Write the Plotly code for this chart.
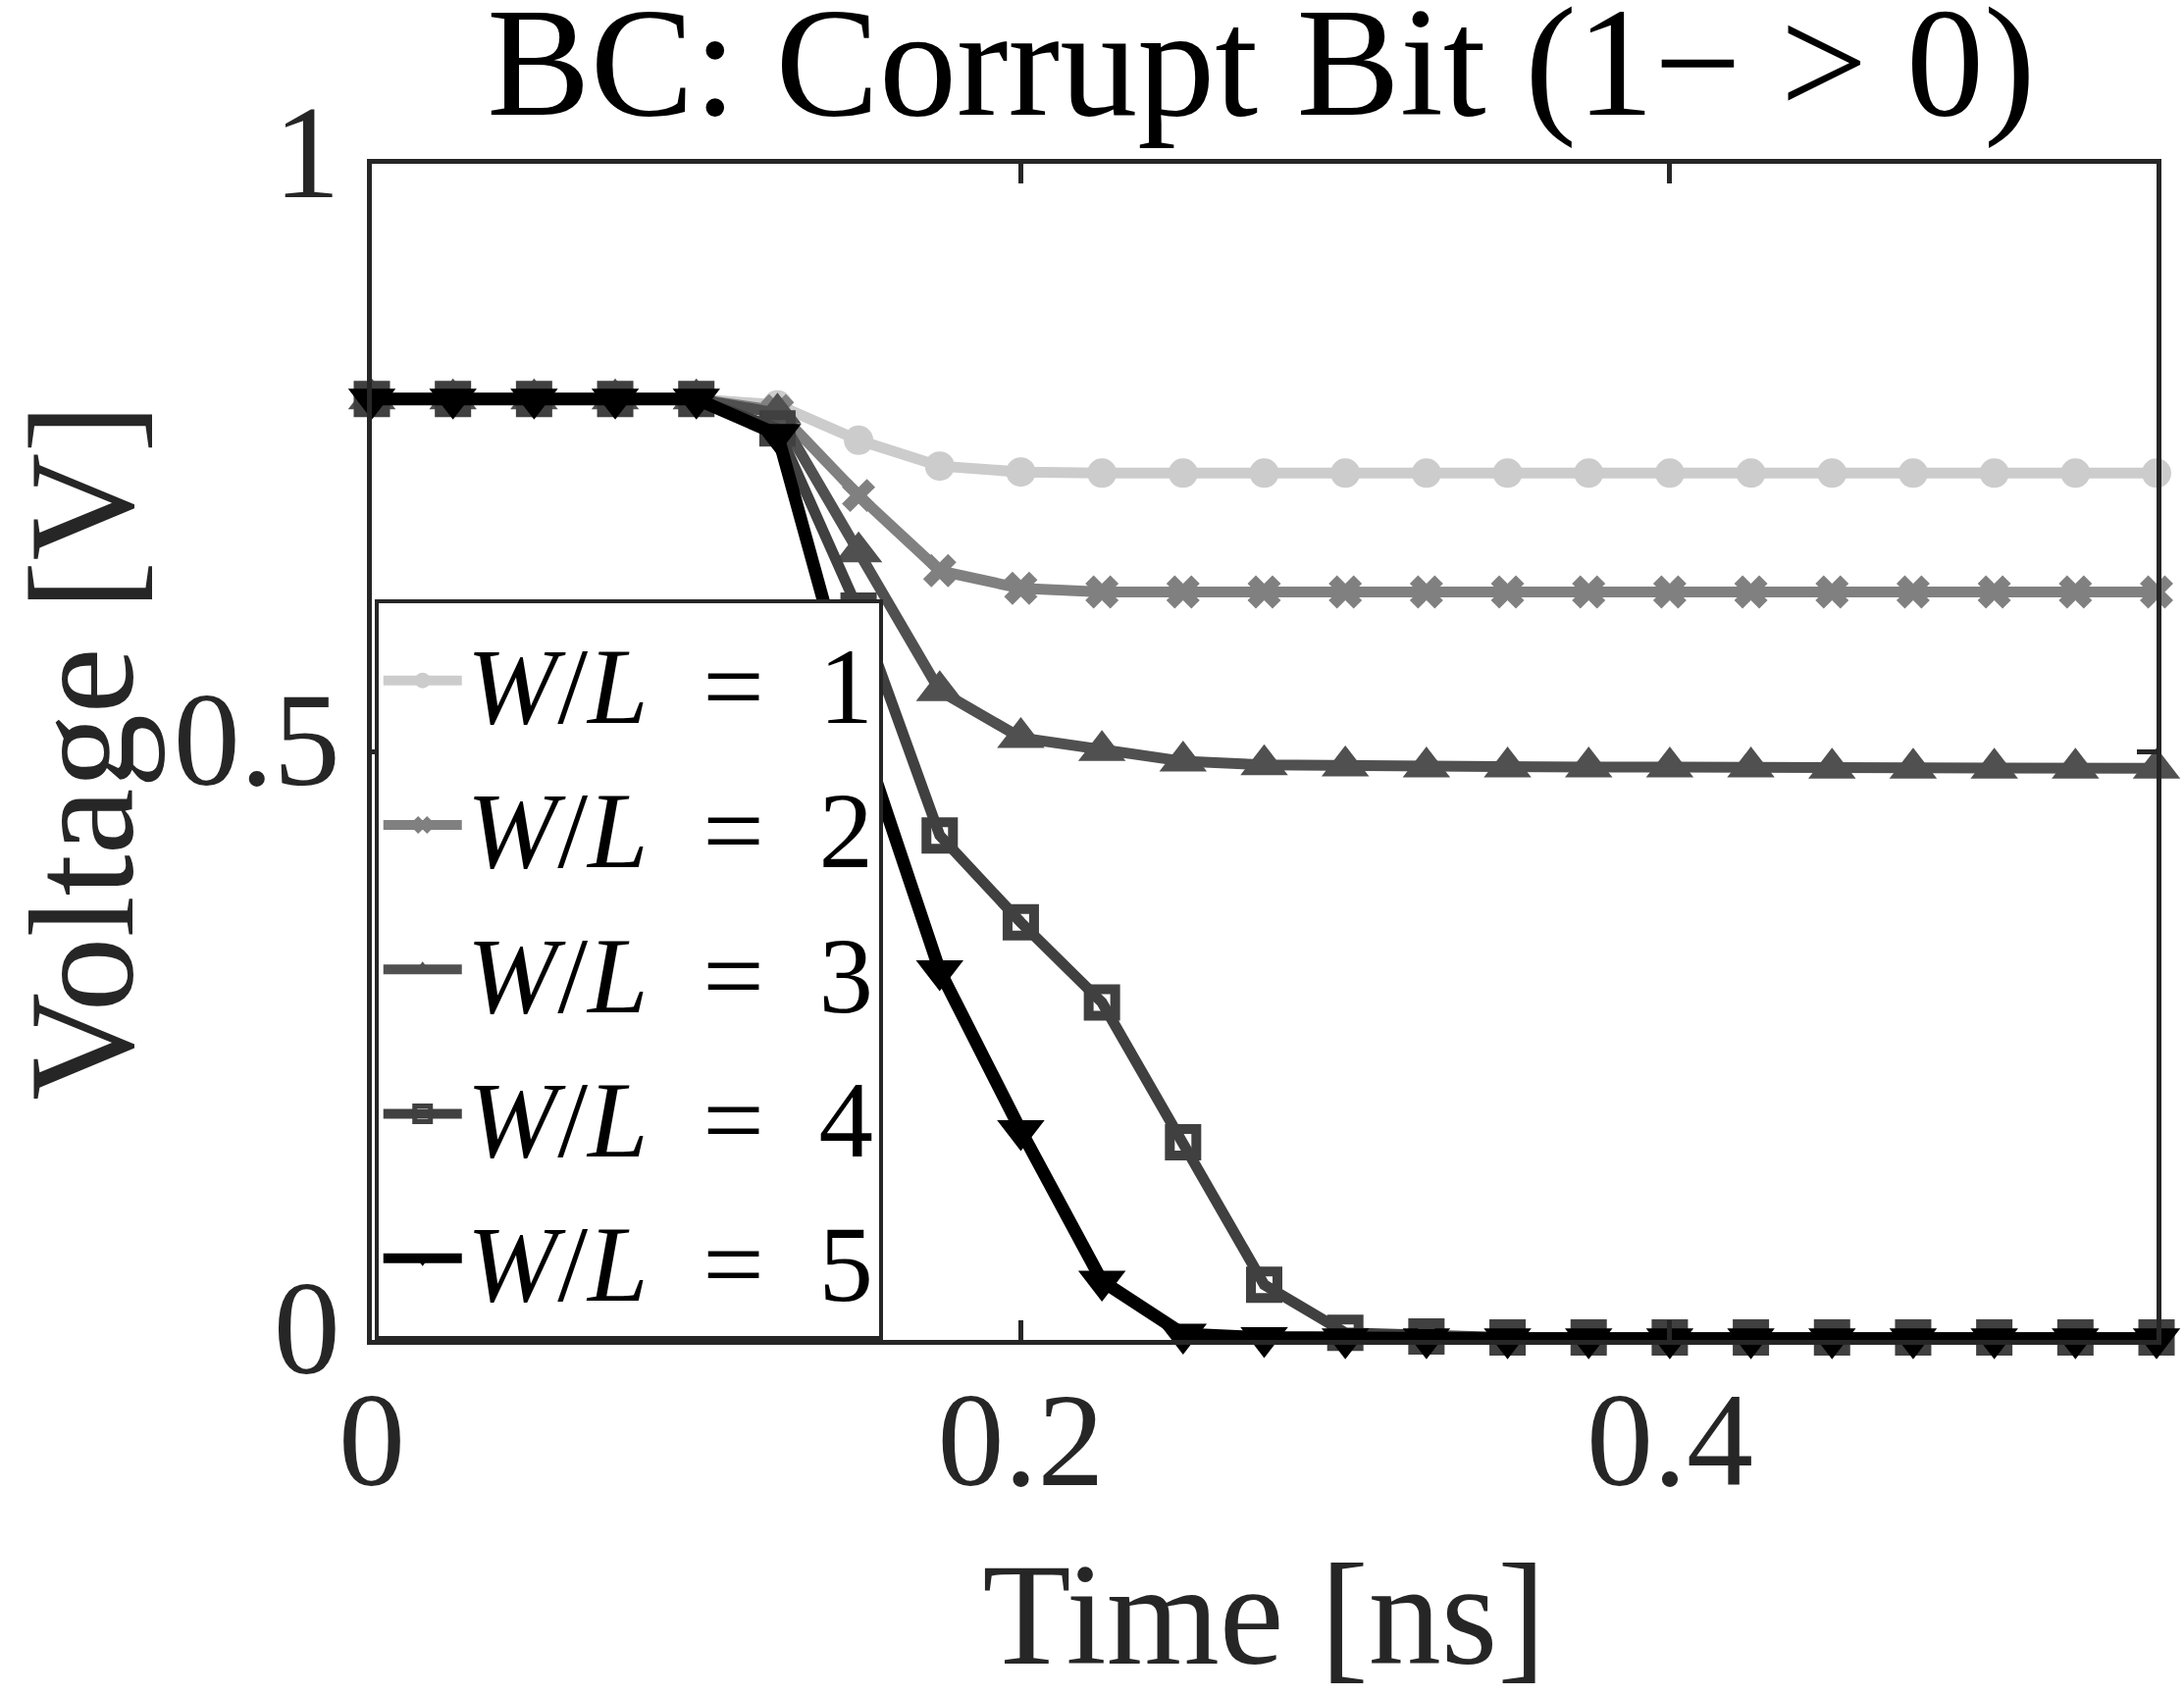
import plotly.graph_objects as go

time_ns = [0, 0.025, 0.05, 0.075, 0.1, 0.125, 0.15, 0.175, 0.2, 0.225, 0.25, 0.275,
           0.3, 0.325, 0.35, 0.375, 0.4, 0.425, 0.45, 0.475, 0.5, 0.525, 0.55]

v_wl1 = [0.8, 0.8, 0.8, 0.8, 0.8, 0.795, 0.765, 0.743, 0.738, 0.737, 0.737, 0.737,
         0.737, 0.737, 0.737, 0.737, 0.737, 0.737, 0.737, 0.737, 0.737, 0.737, 0.737]
v_wl2 = [0.8, 0.8, 0.8, 0.8, 0.8, 0.79, 0.718, 0.654, 0.639, 0.636, 0.636, 0.636,
         0.636, 0.636, 0.636, 0.636, 0.636, 0.636, 0.636, 0.636, 0.636, 0.636, 0.636]
v_wl3 = [0.8, 0.8, 0.8, 0.8, 0.8, 0.788, 0.67, 0.552, 0.512, 0.501, 0.492, 0.489,
         0.488, 0.487, 0.487, 0.487, 0.487, 0.487, 0.486, 0.486, 0.486, 0.486, 0.486]
v_wl4 = [0.8, 0.8, 0.8, 0.8, 0.8, 0.775, 0.62, 0.429, 0.355, 0.287, 0.168, 0.047,
         0.006, 0.003, 0.002, 0.002, 0.002, 0.002, 0.002, 0.002, 0.002, 0.002, 0.002]
v_wl5 = [0.8, 0.8, 0.8, 0.8, 0.8, 0.77, 0.52, 0.314, 0.178, 0.05, 0.005, 0.002,
         0.001, 0.001, 0.001, 0.001, 0.001, 0.001, 0.001, 0.001, 0.001, 0.001, 0.001]

series_names = ["<i>W</i>/<i>L</i>&nbsp;&nbsp;=&nbsp;&nbsp;1", "<i>W</i>/<i>L</i>&nbsp;&nbsp;=&nbsp;&nbsp;2",
                "<i>W</i>/<i>L</i>&nbsp;&nbsp;=&nbsp;&nbsp;3", "<i>W</i>/<i>L</i>&nbsp;&nbsp;=&nbsp;&nbsp;4",
                "<i>W</i>/<i>L</i>&nbsp;&nbsp;=&nbsp;&nbsp;5"]
series_values = [v_wl1, v_wl2, v_wl3, v_wl4, v_wl5]
series_colors = ["#cccccc", "#808080", "#505050", "#404040", "#000000"]
series_symbols = ["circle", "x", "triangle-up", "square-open", "triangle-down"]
series_widths = [11, 11, 11, 11, 13]
series_msizes = [30, 30, 42, 27, 42]

x_ticks = [0, 0.2, 0.4]
x_ticklabels = ["0", "0.2", "0.4"]
y_ticks = [0, 0.5, 1]
y_ticklabels = ["0", "0.5", "1"]

FONT = "Liberation Serif"
AX = "#262626"

fig = go.Figure()
for name, vals, col, sym, lw, ms in zip(series_names, series_values, series_colors,
                                        series_symbols, series_widths, series_msizes):
    fig.add_trace(go.Scatter(
        x=time_ns, y=vals, name=name, mode="lines+markers",
        line=dict(color=col, width=lw),
        marker=dict(symbol=sym, size=ms, color=col,
                    line=dict(color=col, width=10 if sym == "square-open" else 0)),
        cliponaxis=False,
    ))

fig.update_layout(
    width=2226, height=1728,
    margin=dict(l=376, r=28, t=167, b=362),
    plot_bgcolor="white", paper_bgcolor="white",
    font=dict(family=FONT, size=136, color=AX),
    title=dict(text="BC: Corrupt Bit (1− &gt; 0)", x=0.5775, xanchor="center",
               y=1 - 6 / 1728, yanchor="top", yref="container", pad=dict(t=0, b=0),
               font=dict(family=FONT, size=158, color="black")),
    showlegend=True,
    legend=dict(x=0.0015, y=0, xanchor="left", yanchor="bottom",
                bgcolor="white", bordercolor=AX, borderwidth=4,
                font=dict(family=FONT, size=111, color="black"),
                itemwidth=80, tracegroupgap=0),
    xaxis=dict(range=[0, 0.55], tickvals=x_ticks, ticktext=x_ticklabels,
               showline=True, linecolor=AX, linewidth=5, mirror="ticks",
               ticks="inside", ticklen=20, tickwidth=5, tickcolor=AX,
               showgrid=False, zeroline=False, ticklabelstandoff=-20,
               tickfont=dict(family=FONT, size=136, color=AX),
               title=dict(text="Time [ns]", standoff=62,
                          font=dict(family=FONT, size=148, color=AX))),
    yaxis=dict(range=[0, 1], tickvals=y_ticks, ticktext=y_ticklabels,
               showline=True, linecolor=AX, linewidth=5, mirror="ticks",
               ticks="inside", ticklen=20, tickwidth=5, tickcolor=AX,
               showgrid=False, zeroline=False, ticklabelshift=-14,
               tickfont=dict(family=FONT, size=136, color=AX),
               title=dict(text="Voltage [V]", standoff=58,
                          font=dict(family=FONT, size=152, color=AX))),
)

fig.write_html("out.html")
